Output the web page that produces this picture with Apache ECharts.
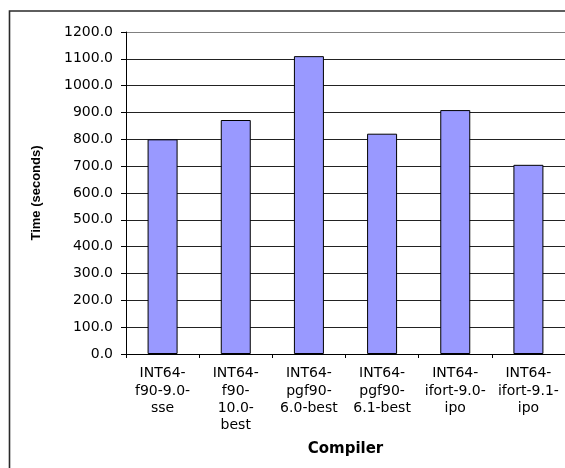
<!DOCTYPE html>
<html>
<head>
<meta charset="utf-8">
<script src="https://cdn.jsdelivr.net/npm/echarts@6/dist/echarts.min.js"></script>
<style>
html,body{margin:0;padding:0;background:#fff;}
#c{width:565px;height:468px;}
</style>
</head>
<body>
<div id="c"></div>
<script>
const categories = [
  "INT64-\nf90-9.0-\nsse",
  "INT64-\nf90-\n10.0-\nbest",
  "INT64-\npgf90-\n6.0-best",
  "INT64-\npgf90-\n6.1-best",
  "INT64-\nifort-9.0-\nipo",
  "INT64-\nifort-9.1-\nipo"
];
const timeSeconds = [800, 872, 1110, 821, 909, 705];
const yMin = 0, yMax = 1200, yStep = 100;
const xAxisTitle = "Compiler";
const yAxisTitle = "Time (seconds)";

const gridColors = [];
for (let v = yMin; v <= yMax; v += yStep) gridColors.push(v === yMax ? '#808080' : '#222222');

const chart = echarts.init(document.getElementById('c'), null, {renderer: 'canvas'});
chart.setOption({
  animation: false,
  backgroundColor: '#ffffff',
  grid: {left: 126, top: 32, right: -2, bottom: 114, containLabel: false},
  graphic: [{
    type: 'rect',
    shape: {x: 9.5, y: 11, width: 600, height: 500},
    style: {fill: 'none', stroke: '#2a2a2a', lineWidth: 1.6},
    silent: true
  }],
  xAxis: {
    type: 'category',
    data: categories,
    name: xAxisTitle,
    nameLocation: 'middle',
    nameGap: 88,
    nameTextStyle: {fontFamily: 'DejaVu Sans', fontWeight: 'bold', fontSize: 15, color: '#000'},
    axisLine: {lineStyle: {color: '#000', width: 1}},
    axisTick: {show: true, length: 4, lineStyle: {color: '#000'}},
    axisLabel: {
      interval: 0, margin: 11,
      fontFamily: 'DejaVu Sans', fontSize: 14, lineHeight: 17.3, color: '#000', align: 'center'
    },
    splitLine: {show: false}
  },
  yAxis: {
    type: 'value',
    min: yMin, max: yMax, interval: yStep,
    name: yAxisTitle,
    nameLocation: 'middle',
    nameGap: 83,
    nameTextStyle: {fontFamily: 'Liberation Sans', fontWeight: 'bold', fontSize: 13, color: '#000'},
    axisLine: {show: true, lineStyle: {color: '#000', width: 1}},
    axisTick: {show: true, length: 5, lineStyle: {color: '#000'}},
    axisLabel: {
      margin: 13,
      fontFamily: 'DejaVu Sans', fontSize: 14, color: '#000',
      formatter: v => v.toFixed(1)
    },
    splitLine: {show: true, lineStyle: {color: gridColors, width: 1}}
  },
  series: [{
    type: 'bar',
    data: timeSeconds,
    barWidth: 30,
    itemStyle: {color: '#9999ff', borderColor: '#000', borderWidth: 1}
  }]
});
</script>
</body>
</html>
